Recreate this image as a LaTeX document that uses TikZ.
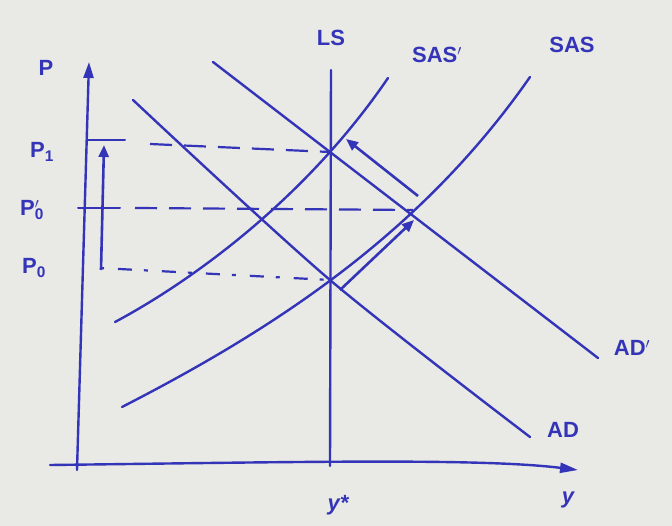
\documentclass[tikz,border=0pt]{standalone}
\usepackage{fontspec}
\setmainfont{Liberation Sans}
\usetikzlibrary{arrows.meta}
\definecolor{pen}{HTML}{3434B8}
\definecolor{paper}{HTML}{E9E9E5}
\tikzset{
  curve/.style={draw=pen,line width=2.4pt,line cap=round},
  guide/.style={draw=pen,line width=2.2pt,dash pattern=on 22pt off 12pt},
  dotguide/.style={draw=pen,line width=2.2pt,dash pattern=on 4pt off 14pt on 14pt off 12pt},
  move/.style={draw=pen,line width=2.6pt,-{Triangle[length=12pt,width=10pt]}},
  lbl/.style={text=pen,font=\fontsize{22}{24}\selectfont\bfseries}
}
\begin{document}
\begin{tikzpicture}[x=1pt,y=-1pt]
\fill[paper] (0,0) rectangle (672,526);
\useasboundingbox (0,0) rectangle (672,526);
% axes
\coordinate (yb) at (77,470);
\coordinate (yt) at (89,62);
\coordinate (xl) at (50,465);
\coordinate (xr) at (578,470);
\draw[curve,-{Triangle[length=16pt,width=10pt]}] (yb) -- (yt);
\draw[curve,-{Triangle[length=18pt,width=10pt]}] (xl) .. controls (300,462) and (480,458) .. (xr);
% LS
\coordinate (lsb) at (330,466);
\coordinate (lst) at (331,70);
\draw[curve] (lsb) -- (lst);
% SAS
\coordinate (sasa) at (122,407);
\coordinate (sasb) at (530,77);
\draw[curve] (sasa) .. controls (272,330) and (420,235) .. (sasb);
% SAS'
\coordinate (sasqa) at (115,322);
\coordinate (sasqb) at (388,78);
\draw[curve] (sasqa) .. controls (190,282) and (305,200) .. (sasqb);
% AD
\draw[curve] plot[smooth,tension=0.5] coordinates {(133,100) (330,280) (530,437)};
% AD'
\draw[curve] plot[smooth,tension=0.5] coordinates {(213,62) (330,152) (598,358)};
% guides
\coordinate (p1a) at (88,140);
\coordinate (p1b) at (125,140);
\coordinate (p1c) at (150,144);
\coordinate (e1) at (330,152);
\draw[curve,line width=2pt] (p1a) -- (p1b);
\draw[guide] (p1c) -- (e1);
\coordinate (p0pa) at (78,208);
\coordinate (p0pb) at (120,208);
\coordinate (p0pc) at (135,208);
\coordinate (e2) at (413,210);
\draw[curve,line width=2pt] (p0pa) -- (p0pb);
\draw[guide] (p0pc) -- (e2);
\coordinate (p0a) at (100,268);
\coordinate (e0) at (330,280);
\draw[dotguide] (p0a) -- (e0);
% movement arrows
\coordinate (va) at (101,270);
\coordinate (vb) at (104,145);
\draw[move] (va) -- (vb);
\coordinate (la) at (340,290);
\coordinate (lb) at (414,220);
\draw[move] (la) -- (lb);
\coordinate (ua) at (418,196);
\coordinate (ub) at (346,139);
\draw[move] (ua) -- (ub);
% labels
\node[lbl] (tP) at (46,68) {P};
\node[lbl] (tP1) at (42,152) {P\textsubscript{1}};
\node[lbl] (tP0p) at (32,210) {P\rlap{$^{\prime}$}\textsubscript{0}};
\node[lbl] (tP0) at (34,268) {P\textsubscript{0}};
\node[lbl] (tLS) at (331,38) {LS};
\node[lbl] (tSASp) at (437,55) {SAS$^{\prime}$};
\node[lbl] (tSAS) at (572,45) {SAS};
\node[lbl] (tADp) at (632,348) {AD$^{\prime}$};
\node[lbl] (tAD) at (563,430) {AD};
\node[lbl,font=\fontsize{22}{24}\selectfont\itshape\bfseries] (tys) at (338,505) {y*};
\node[lbl,font=\fontsize{22}{24}\selectfont\itshape\bfseries] (ty) at (568,500) {y};
\end{tikzpicture}
\end{document}
